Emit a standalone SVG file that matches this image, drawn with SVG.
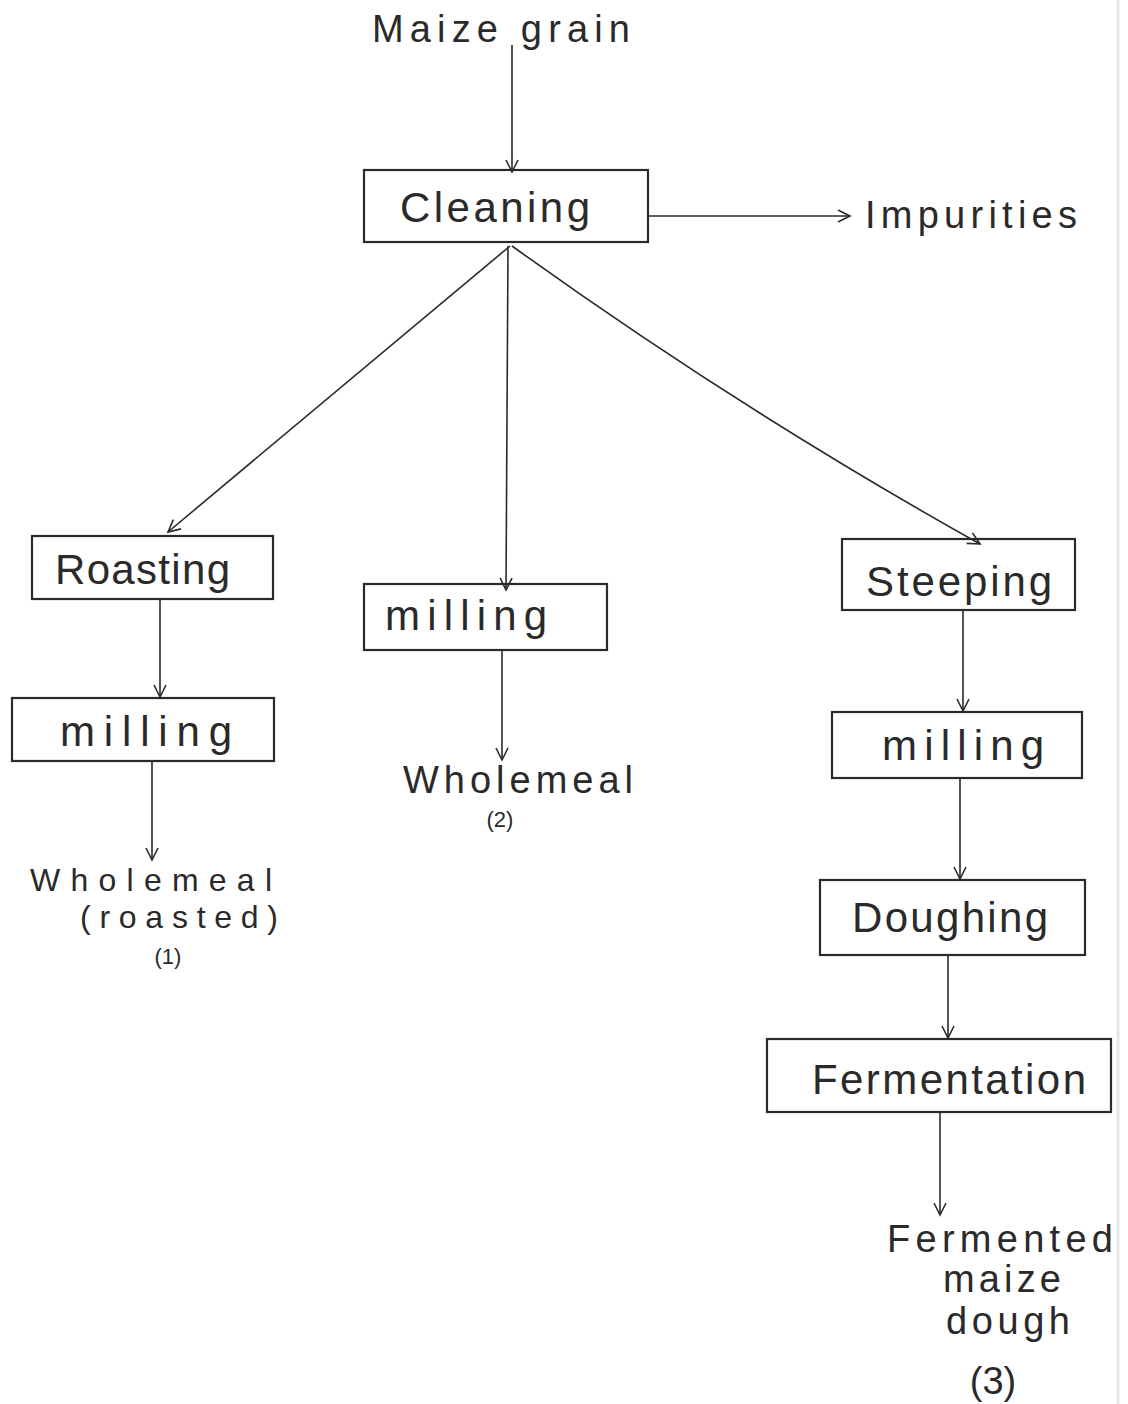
<svg xmlns="http://www.w3.org/2000/svg" width="1128" height="1404" viewBox="0 0 1128 1404">
<defs>
<marker id="arr" markerWidth="16" markerHeight="16" refX="14" refY="8" orient="auto" markerUnits="userSpaceOnUse">
<polyline points="2,2 14,8 2,14" fill="none" stroke="#2a2a2a" stroke-width="1.6"/>
</marker>
<style>
.box{fill:#fff;stroke:#2a2a2a;stroke-width:2.2}
.lbl{font-family:"Liberation Sans",Arial,sans-serif;font-size:42px;fill:#2a2a2a}
.out{font-family:"Liberation Sans",Arial,sans-serif;font-size:38px;fill:#2a2a2a}
.out2{font-family:"Liberation Sans",Arial,sans-serif;font-size:32px;fill:#2a2a2a}
.sm{font-family:"Liberation Sans",Arial,sans-serif;font-size:22px;fill:#2a2a2a}
.con{fill:none;stroke:#2a2a2a;stroke-width:1.6;marker-end:url(#arr)}
</style>
</defs>
<rect width="1128" height="1404" fill="#fff"/>
<line x1="1118" y1="0" x2="1118" y2="1404" stroke="#e6e6e6" stroke-width="3"/>

<g id="input"><text class="out" x="372" y="42" textLength="258" lengthAdjust="spacing">Maize grain</text></g>

<g id="cleaning"><rect class="box" x="364" y="170" width="284" height="72"/><text class="lbl" x="400" y="222" textLength="190" lengthAdjust="spacing">Cleaning</text></g>
<g id="impurities"><text class="out" x="865" y="228" textLength="212" lengthAdjust="spacing">Impurities</text></g>

<g id="roasting"><rect class="box" x="32" y="536" width="241" height="63"/><text class="lbl" x="55" y="584" textLength="175" lengthAdjust="spacing">Roasting</text></g>
<g id="milling1"><rect class="box" x="12" y="698" width="262" height="63"/><text class="lbl" x="60" y="746" textLength="172" lengthAdjust="spacing">milling</text></g>
<g id="wholemeal1"><text class="out2" x="30" y="891" textLength="242" lengthAdjust="spacing">Wholemeal</text><text class="out2" x="80" y="928" textLength="198" lengthAdjust="spacing">(roasted)</text><text class="sm" x="168" y="964" text-anchor="middle">(1)</text></g>

<g id="milling2"><rect class="box" x="364" y="584" width="243" height="66"/><text class="lbl" x="385" y="630" textLength="162" lengthAdjust="spacing">milling</text></g>
<g id="wholemeal2"><text class="out" x="403" y="793" textLength="230" lengthAdjust="spacing">Wholemeal</text><text class="sm" x="500" y="827" text-anchor="middle">(2)</text></g>

<g id="steeping"><rect class="box" x="842" y="539" width="233" height="71"/><text class="lbl" x="866" y="596" textLength="186" lengthAdjust="spacing">Steeping</text></g>
<g id="milling3"><rect class="box" x="832" y="712" width="250" height="66"/><text class="lbl" x="882" y="760" textLength="162" lengthAdjust="spacing">milling</text></g>
<g id="doughing"><rect class="box" x="820" y="880" width="265" height="75"/><text class="lbl" x="852" y="932" textLength="196" lengthAdjust="spacing">Doughing</text></g>
<g id="fermentation"><rect class="box" x="767" y="1039" width="344" height="73"/><text class="lbl" x="812" y="1094" textLength="274" lengthAdjust="spacing">Fermentation</text></g>
<g id="dough"><text class="out" x="1000" y="1252" text-anchor="middle" textLength="226" lengthAdjust="spacing">Fermented</text><text class="out" x="1002" y="1292" text-anchor="middle" textLength="118" lengthAdjust="spacing">maize</text><text class="out" x="1008" y="1334" text-anchor="middle" textLength="124" lengthAdjust="spacing">dough</text><text class="out" x="993" y="1394" text-anchor="middle">(3)</text></g>

<g id="connectors">
<path class="con" d="M512,45 L512,172"/>
<path class="con" d="M648,216 L850,216"/>
<path class="con" d="M510,246 Q335,392 168,532"/>
<path class="con" d="M508,246 L506,590"/>
<path class="con" d="M512,246 Q740,410 980,544"/>
<path class="con" d="M160,599 L160,697"/>
<path class="con" d="M152,761 L152,860"/>
<path class="con" d="M502,650 L502,760"/>
<path class="con" d="M963,610 L963,711"/>
<path class="con" d="M960,778 L960,879"/>
<path class="con" d="M948,955 L948,1038"/>
<path class="con" d="M940,1112 L940,1215"/>
</g>
</svg>
